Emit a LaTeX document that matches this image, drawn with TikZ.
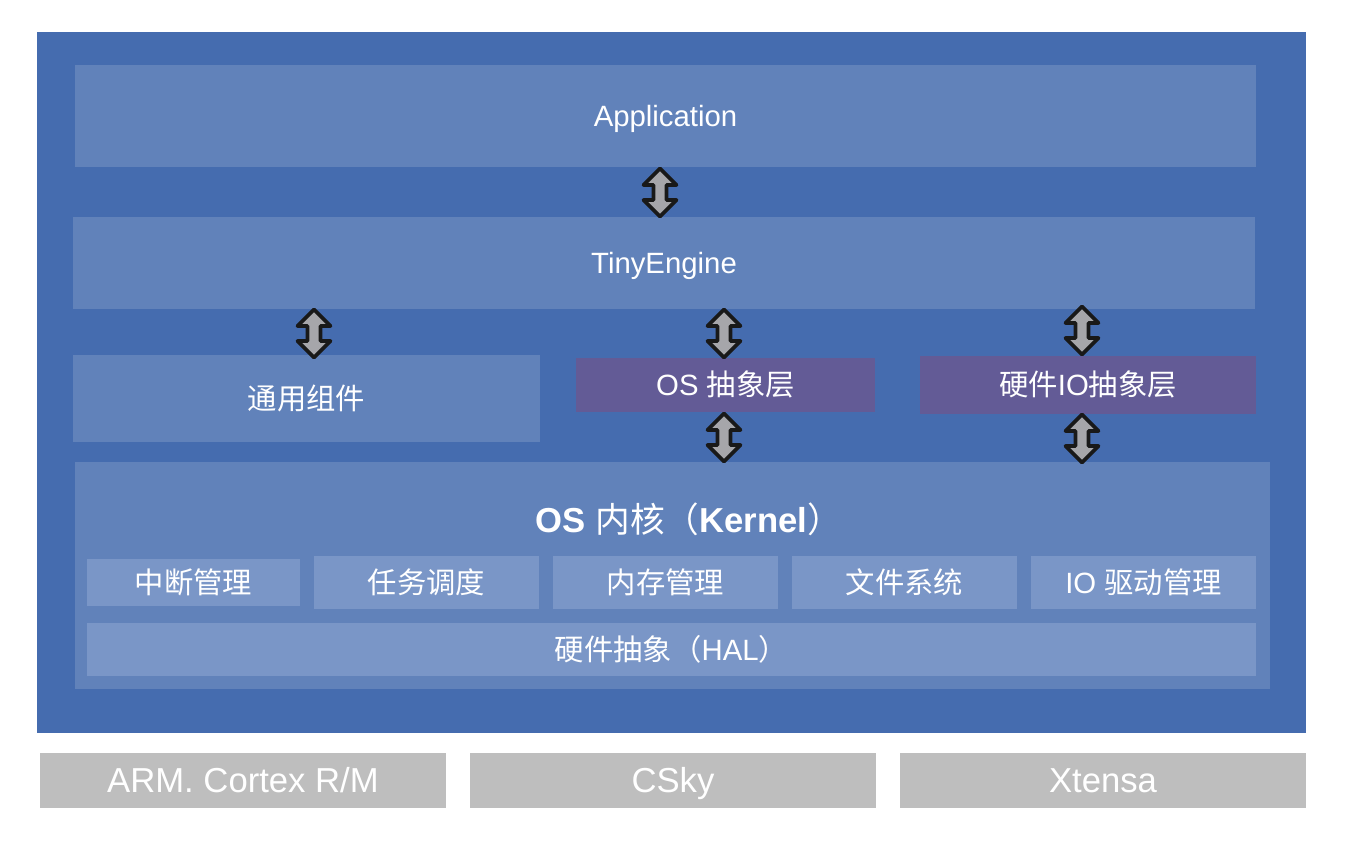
\documentclass[tikz,border=0pt]{standalone}
\usepackage{fontspec}
\setmainfont{Liberation Sans}
\newfontfamily\cjk{Noto Sans CJK SC}
\usetikzlibrary{fit}
\definecolor{outerblue}{RGB}{69,108,175}
\definecolor{boxblue}{RGB}{97,130,186}
\definecolor{subblue}{RGB}{122,150,199}
\definecolor{layerpurple}{RGB}{99,91,150}
\definecolor{platgray}{RGB}{190,190,190}
\definecolor{arrowgray}{RGB}{166,166,170}
\tikzset{
  every node/.style={inner sep=0pt, outer sep=0pt, text=white},
  layer/.style={fill=boxblue, draw=none},
  sublayer/.style={fill=subblue, draw=none},
  abslayer/.style={fill=layerpurple, draw=none},
  platform/.style={fill=platgray, draw=none},
  txt/.style={font=\fontsize{22}{26}\selectfont, text height=15.8pt, text depth=0pt},
  ptxt/.style={font=\fontsize{26}{30}\selectfont, text height=18.7pt, text depth=0pt},
  ktxt/.style={font=\fontsize{26}{30}\selectfont, text height=18.7pt, text depth=0pt},
  dblarrow/.style={draw=black!90, fill=arrowgray, line width=2.8pt, line join=round},
  dbl/.pic={\draw[dblarrow] (0,1.5) -- (16.5,18) -- (6.5,18) -- (6.5,33) -- (16.5,33) -- (0,49.5) -- (-16.5,33) -- (-6.5,33) -- (-6.5,18) -- (-16.5,18) -- cycle;}
}
\begin{document}
\begin{tikzpicture}[x=0.75pt, y=-0.75pt]
\useasboundingbox (0,0) rectangle (1364,855);
\fill[white] (0,0) rectangle (1364,855);
% outer frame
\node[fill=outerblue, fit={(37,32) (1306,733)}] (frame) {};
% layers
\node[layer, fit={(75,65) (1256,167)}] (app) {};
\node[txt] at (app.center) {Application};
\node[layer, fit={(73,217) (1255,309)}] (engine) {};
\node[txt] at (engine.center) {TinyEngine};
\node[layer, fit={(73,355) (540,442)}] (comp) {};
\node[txt] at (comp.center) {\cjk 通用组件};
\node[abslayer, fit={(576,358) (875,412)}] (osabs) {};
\node[txt] at (osabs.center) {OS {\cjk 抽象层}};
\node[abslayer, fit={(920,356) (1256,414)}] (hwabs) {};
\node[txt] at (hwabs.center) {{\cjk 硬件}IO{\cjk 抽象层}};
\node[layer, fit={(75,462) (1270,689)}] (kernel) {};
\node[ktxt] (ktitle) at (689,520) {\textbf{OS} {\cjk 内核（}\textbf{Kernel}{\cjk ）}};
\node[sublayer, fit={(87,559) (300,606)}] (irq) {};
\node[txt] at (irq.center) {\cjk 中断管理};
\node[sublayer, fit={(314,556) (539,609)}] (task) {};
\node[txt] at (task.center) {\cjk 任务调度};
\node[sublayer, fit={(553,556) (778,609)}] (mem) {};
\node[txt] at (mem.center) {\cjk 内存管理};
\node[sublayer, fit={(792,556) (1017,609)}] (fs) {};
\node[txt] at (fs.center) {\cjk 文件系统};
\node[sublayer, fit={(1031,556) (1256,609)}] (io) {};
\node[txt] at (io.center) {IO {\cjk 驱动管理}};
\node[sublayer, fit={(87,623) (1256,676)}] (hal) {};
\node[txt] at (hal.center) {{\cjk 硬件抽象（}HAL{\cjk ）}};
% platforms
\node[platform, fit={(40,753) (446,808)}] (arm) {};
\node[ptxt] at (arm.center) {ARM. Cortex R/M};
\node[platform, fit={(470,753) (876,808)}] (csky) {};
\node[ptxt] at (csky.center) {CSky};
\node[platform, fit={(900,753) (1306,808)}] (xtensa) {};
\node[ptxt] at (xtensa.center) {Xtensa};
% double arrows
\pic at (660,167) {dbl};
\pic at (314,308) {dbl};
\pic at (724,308) {dbl};
\pic at (1082,305) {dbl};
\pic at (724,412) {dbl};
\pic at (1082,413) {dbl};
\end{tikzpicture}
\end{document}
